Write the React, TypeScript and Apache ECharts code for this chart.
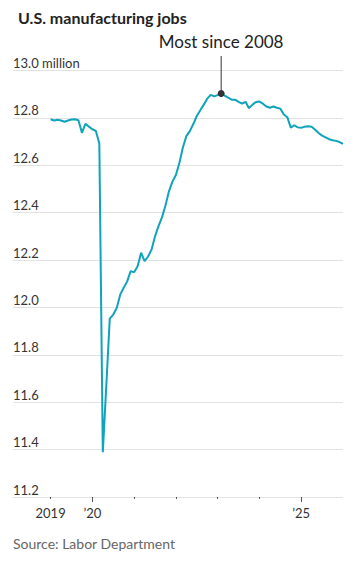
import React, { useEffect, useRef } from "react";
import * as echarts from "echarts";

// ---- Data ----
const startYear = 2019; // first month: Jan 2019, monthly values
const jobsMillions = [
  12.794, 12.789, 12.792, 12.789, 12.784, 12.789, 12.793, 12.794, 12.79, 12.737, 12.775, 12.763,
  12.752, 12.745, 12.692, 11.389, 11.67, 11.953, 11.97, 11.998, 12.054, 12.083, 12.11, 12.153,
  12.149, 12.174, 12.231, 12.195, 12.215, 12.244, 12.3, 12.343, 12.38, 12.43, 12.49, 12.531,
  12.559, 12.61, 12.675, 12.723, 12.744, 12.774, 12.808, 12.832, 12.856, 12.881, 12.897, 12.891,
  12.896, 12.903, 12.894, 12.886, 12.877, 12.877, 12.868, 12.86, 12.868, 12.841, 12.856, 12.867,
  12.869, 12.86, 12.848, 12.843, 12.848, 12.843, 12.839, 12.814, 12.803, 12.759, 12.769, 12.76,
  12.758, 12.763, 12.765, 12.763, 12.75, 12.736, 12.725, 12.718, 12.71, 12.706, 12.703, 12.698,
  12.69,
];
const minorTickYears = [2019, 2021, 2022, 2023, 2024];
const majorTickYears = [2020, 2025];
const xLabelYears = [2019, 2020, 2025];
const xLabelTexts = ["2019", "\u201920", "\u201925"];
const yMin = 11.2;
const yMax = 13.0;
const yStep = 0.2;
const xMin = 2018.1;
const xMax = 2026;
const titleText = "U.S. manufacturing jobs";
const annotationText = "Most since 2008";
const sourceText = "Source: Labor Department";

const FONT = "Lato, 'Noto Sans', sans-serif";
const LINE_COLOR = "#0fa3bc";

export default function App() {
  const ref = useRef<HTMLDivElement>(null);

  useEffect(() => {
    if (!ref.current) return;
    const chart = echarts.init(ref.current, undefined, { renderer: "svg" });
    const seriesData = jobsMillions.map((v, i) => [startYear + i / 12, v]);
    let peakIdx = 0;
    jobsMillions.forEach((v, i) => {
      if (v > jobsMillions[peakIdx]) peakIdx = i;
    });

    const xBase = {
      type: "value" as const,
      min: xMin,
      max: xMax,
      position: "bottom" as const,
      axisLine: { show: false },
      splitLine: { show: false },
    };

    chart.setOption({
      animation: false,
      textStyle: { fontFamily: FONT },
      title: {
        text: titleText,
        left: 13,
        top: 4,
        textStyle: { fontFamily: FONT, fontSize: 16, fontWeight: "bold", color: "#222" },
      },
      grid: { left: 13, right: 13, top: 70.5, bottom: 64 },
      xAxis: [
        {
          ...xBase,
          axisTick: {
            show: true,
            customValues: minorTickYears,
            length: 2,
            lineStyle: { color: "#555", width: 1 },
          },
          axisLabel: { show: false },
        },
        {
          ...xBase,
          axisTick: {
            show: true,
            customValues: majorTickYears,
            length: 5,
            lineStyle: { color: "#555", width: 1 },
          },
          axisLabel: {
            show: true,
            customValues: xLabelYears,
            margin: 9,
            fontFamily: FONT,
            fontSize: 13,
            color: "#333",
            formatter: (v: number) => {
              const k = xLabelYears.findIndex((y) => Math.abs(y - v) < 1e-6);
              return k >= 0 ? xLabelTexts[k] : "";
            },
          },
        },
      ],
      yAxis: {
        type: "value",
        min: yMin,
        max: yMax,
        interval: yStep,
        axisLine: { show: false },
        axisTick: { show: false },
        splitLine: { show: true, lineStyle: { color: "#e2e2e2", width: 1 } },
        axisLabel: {
          inside: true,
          margin: 0,
          verticalAlign: "bottom",
          align: "left",
          padding: [0, 0, 1, 0],
          fontFamily: FONT,
          fontSize: 13,
          color: "#333",
          formatter: (v: number) =>
            Math.abs(v - yMax) < 1e-6 ? `${v.toFixed(1)} million` : v.toFixed(1),
        },
      },
      series: [
        {
          type: "line",
          xAxisIndex: 0,
          yAxisIndex: 0,
          data: seriesData,
          showSymbol: false,
          lineStyle: { color: LINE_COLOR, width: 2 },
          z: 3,
        },
      ],
    });

    const [px, py] = chart.convertToPixel({ xAxisIndex: 0, yAxisIndex: 0 }, seriesData[peakIdx]) as number[];
    chart.setOption({
      graphic: [
        {
          type: "line",
          shape: { x1: px, y1: 56, x2: px, y2: py },
          style: { stroke: "#333", lineWidth: 1 },
          z: 10,
        },
        {
          type: "circle",
          shape: { cx: px, cy: py, r: 3.5 },
          style: { fill: "#333" },
          z: 11,
        },
        {
          type: "text",
          x: px,
          y: 33,
          style: {
            text: annotationText,
            fontFamily: FONT,
            fontSize: 17,
            fill: "#222",
            align: "center",
            verticalAlign: "top",
          },
          z: 11,
        },
        {
          type: "text",
          left: 13,
          top: 536,
          style: {
            text: sourceText,
            fontFamily: FONT,
            fontSize: 14,
            fill: "#666",
          },
        },
      ],
    });

    return () => chart.dispose();
  }, []);

  return (
    <div
      ref={ref}
      style={{ position: "fixed", left: 0, top: 0, width: 356, height: 561, background: "#fff" }}
    />
  );
}
